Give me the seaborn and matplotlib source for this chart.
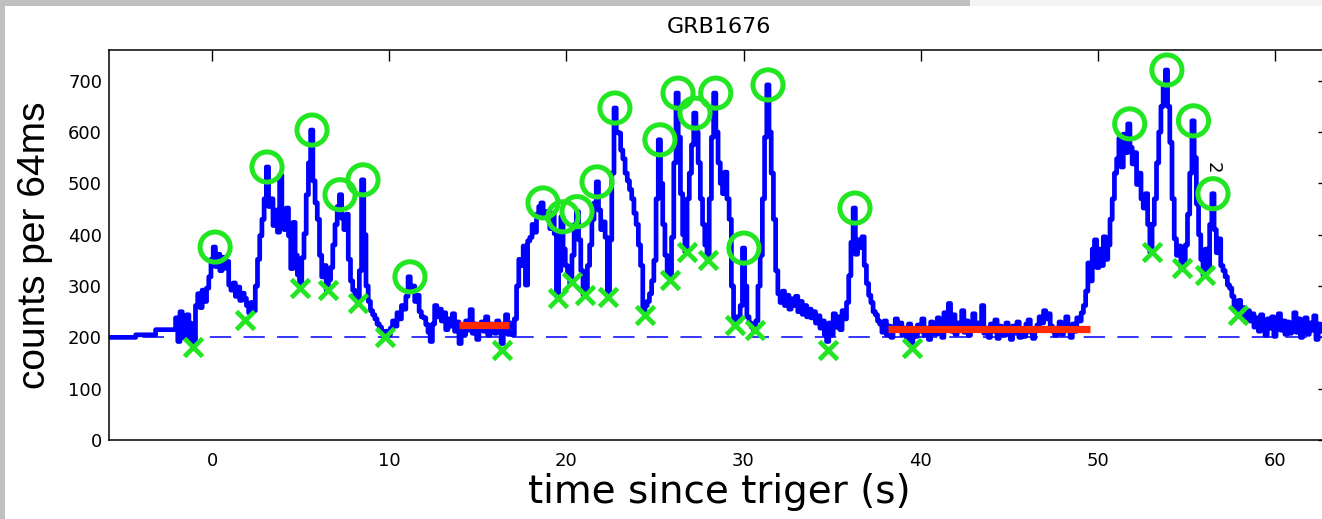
import numpy as np
import pandas as pd
import matplotlib
matplotlib.use("Agg")
import matplotlib.pyplot as plt
import seaborn as sns
from matplotlib.patches import Rectangle

# ---- light curve: counts per 64 ms, one row per second, 8 samples per row ----
title = "GRB1676"
t_first = -6.0
bin_width = 0.125
counts = [
    200, 200, 200, 200, 200, 200, 200, 200,   # -6
    200, 200, 200, 200, 200, 200, 205, 205,   # -5
    205, 205, 205, 205, 205, 205, 205, 215,   # -4
    215, 215, 215, 215, 215, 215, 215, 215,   # -3
    238, 192, 250, 242, 198, 244, 228, 196,   # -2
    188, 262, 285, 258, 292, 270, 296, 318,   # -1
    352, 376, 338, 362, 330, 356, 335, 348,   # 0
    302, 292, 306, 280, 298, 272, 286, 276,   # 1
    262, 248, 268, 252, 300, 352, 398, 430,   # 2
    470, 532, 455, 470, 418, 448, 405, 516,   # 3
    445, 410, 452, 398, 334, 424, 360, 322,   # 4
    298, 355, 402, 478, 540, 604, 505, 462,   # 5
    430, 360, 318, 340, 292, 312, 336, 380,   # 6
    420, 455, 478, 432, 410, 440, 352, 310,   # 7
    292, 280, 267, 330, 507, 400, 300, 270,   # 8
    252, 244, 236, 226, 220, 212, 200, 212,   # 9
    205, 218, 232, 222, 248, 236, 262, 255,   # 10
    280, 318, 296, 300, 270, 282, 250, 240,   # 11
    238, 225, 210, 192, 226, 262, 240, 255,   # 12
    232, 248, 215, 236, 222, 246, 212, 230,   # 13
    188, 222, 205, 232, 214, 254, 208, 226,   # 14
    196, 218, 230, 212, 240, 204, 226, 218,   # 15
    208, 232, 212, 188, 226, 244, 206, 228,   # 16
    205, 236, 300, 352, 340, 378, 302, 388,   # 17
    395, 420, 405, 440, 455, 462, 438, 445,   # 18
    430, 412, 442, 402, 280, 330, 435, 372,   # 19
    340, 318, 305, 360, 420, 445, 390, 330,   # 20
    283, 295, 340, 380, 430, 462, 503, 448,   # 21
    410, 425, 395, 280, 390, 520, 647, 600,   # 22
    598, 565, 548, 520, 505, 488, 470, 442,   # 23
    420, 380, 340, 250, 262, 270, 285, 310,   # 24
    350, 470, 585, 500, 420, 360, 318, 312,   # 25
    395, 540, 676, 590, 480, 400, 367, 470,   # 26
    520, 575, 637, 600, 540, 470, 420, 380,   # 27
    351, 470, 590, 676, 600, 540, 500, 480,   # 28
    522, 470, 430, 300, 226, 240, 232, 262,   # 29
    374, 300, 240, 228, 220, 214, 232, 300,   # 30
    360, 470, 590, 692, 600, 520, 430, 330,   # 31
    285, 268, 290, 262, 282, 255, 275, 262,   # 32
    280, 250, 270, 245, 262, 240, 255, 238,   # 33
    250, 228, 242, 218, 232, 205, 192, 228,   # 34
    205, 246, 220, 240, 215, 252, 236, 268,   # 35
    320, 385, 452, 362, 390, 375, 396, 340,   # 36
    305, 282, 268, 250, 244, 232, 226, 210,   # 37
    232, 205, 222, 200, 218, 236, 214, 228,   # 38
    205, 218, 196, 226, 188, 210, 202, 224,   # 39
    212, 236, 204, 218, 196, 230, 214, 206,   # 40
    238, 222, 200, 248, 224, 266, 212, 244,   # 41
    206, 228, 218, 252, 210, 232, 204, 220,   # 42
    246, 214, 228, 226, 262, 208, 218, 200,   # 43
    226, 212, 234, 198, 222, 210, 204, 228,   # 44
    214, 196, 222, 208, 230, 200, 216, 202,   # 45
    226, 234, 210, 198, 214, 224, 240, 228,   # 46
    252, 236, 246, 222, 212, 204, 218, 230,   # 47
    206, 222, 240, 214, 200, 226, 212, 238,   # 48
    232, 248, 262, 290, 345, 310, 372, 390,   # 49
    336, 372, 340, 396, 352, 380, 430, 470,   # 50
    520, 548, 588, 532, 596, 560, 616, 570,   # 51
    538, 560, 498, 520, 470, 452, 480, 420,   # 52
    366, 420, 470, 540, 600, 650, 690, 721,   # 53
    650, 580, 470, 392, 360, 378, 335, 350,   # 54
    380, 440, 520, 622, 550, 460, 400, 352,   # 55
    321, 372, 335, 420, 480, 410, 365, 392,   # 56
    340, 330, 318, 302, 296, 280, 262, 248,   # 57
    272, 245, 258, 238, 252, 232, 246, 220,   # 58
    238, 212, 244, 226, 204, 236, 218, 240,   # 59
    202, 228, 246, 214, 232, 206, 230, 208,   # 60
    224, 248, 210, 236, 200, 222, 238, 206,   # 61
    228, 214, 242, 196, 226, 212, 220, 232,   # 62
    214, 228, 206, 230, 218, 224, 210, 236,   # 63
]

# detected pulse peaks (circles) and valleys (crosses)
peak_t = [0.17, 3.10, 5.64, 7.22, 8.52, 11.17, 18.68, 19.81, 20.60, 21.73, 22.74,
          25.28, 26.30, 27.26, 28.43, 30.02, 31.38, 36.29, 51.80, 53.90, 55.40, 56.50]
peak_v = [376, 532, 604, 478, 507, 318, 462, 435, 445, 503, 647,
          585, 676, 637, 676, 374, 692, 452, 616, 721, 622, 480]
valley_t = [-1.07, 1.86, 4.97, 6.55, 8.24, 9.76, 16.37, 19.53, 20.32, 21.05, 22.35, 24.43,
            25.85, 26.81, 27.99, 29.51, 30.64, 34.76, 39.50, 53.05, 54.74, 56.04, 57.90]
valley_v = [181, 234, 297, 292, 267, 200, 175, 277, 308, 283, 279, 244,
            312, 367, 351, 224, 214, 175, 179, 366, 335, 321, 244]

# background level and the quiet intervals used to estimate it
background = 200
quiet_start = [13.94, 38.15]
quiet_end = [16.76, 49.55]
quiet_level = [224, 216]

# pulse label
pulse_label = "2"
pulse_label_t, pulse_label_v = 56.5, 530

xticks = [0, 10, 20, 30, 40, 50, 60]
yticks = [0, 100, 200, 300, 400, 500, 600, 700]

# ---- tables ----
lc = pd.DataFrame({"t": t_first + bin_width * np.arange(len(counts)), "counts": counts})
peaks = pd.DataFrame({"t": peak_t, "v": peak_v})
valleys = pd.DataFrame({"t": valley_t, "v": valley_v})
quiet = pd.DataFrame({
    "t": quiet_start + quiet_end,
    "v": quiet_level + quiet_level,
    "seg": list(range(len(quiet_start))) * 2,
})

sns.set_theme(style="white")
plt.rcParams["font.family"] = ["DejaVu Sans"]
plt.rcParams.update({
    "text.color": "black",
    "axes.labelcolor": "black",
    "xtick.color": "black",
    "ytick.color": "black",
    "axes.edgecolor": "black",
})

fig = plt.figure(figsize=(13.22, 5.19), dpi=100)
fig.patch.set_facecolor("white")
W, H = 1322, 519
ax = fig.add_axes([109 / W, 79 / H, 1220 / W, 390 / H])

# window frame strips
fig.patches.append(Rectangle((0, 1 - 6 / H), 970 / W, 6 / H, transform=fig.transFigure,
                             facecolor="#c0c0c0", edgecolor="none", zorder=0))
fig.patches.append(Rectangle((970 / W, 1 - 6 / H), 1 - 970 / W, 6 / H, transform=fig.transFigure,
                             facecolor="#f3f3f3", edgecolor="none", zorder=0))
fig.patches.append(Rectangle((0, 0), 5 / W, 1, transform=fig.transFigure,
                             facecolor="#c0c0c0", edgecolor="none", zorder=0))

blue = "#0000ff"
green = "#22e622"
red = "#ff2a00"

ax.axhline(background, color=blue, lw=1.1, dashes=(14, 8), zorder=1)
sns.lineplot(data=lc, x="t", y="counts", ax=ax, color=blue, lw=3.4,
             drawstyle="steps-mid", estimator=None, zorder=2)
sns.lineplot(data=quiet, x="t", y="v", units="seg", estimator=None, ax=ax,
             color=red, lw=5.2, solid_capstyle="butt", zorder=3)
sns.scatterplot(data=peaks, x="t", y="v", ax=ax, marker="o", s=470,
                facecolor="none", edgecolor=green, linewidth=3.6, zorder=4)
sns.scatterplot(data=valleys, x="t", y="v", ax=ax, marker="x", s=170,
                color=green, linewidth=3.4, zorder=4)

ax.text(pulse_label_t, pulse_label_v, pulse_label, rotation=-90, fontsize=13,
        ha="center", va="center", color="black")

ax.set_xlim(-5.82, 63.05)
ax.set_ylim(0, 760)
ax.set_xticks(xticks)
ax.set_yticks(yticks)
ax.tick_params(direction="in", length=8, width=1.0, top=True, right=True,
               labelsize=13, colors="black")
ax.tick_params(axis="x", pad=9)
ax.tick_params(axis="y", pad=5)
for sp in ax.spines.values():
    sp.set_visible(True)
    sp.set_color("black")
    sp.set_linewidth(1.1)

ax.set_title(title, fontsize=16, pad=12, color="black")
ax.set_xlabel("time since triger (s)", fontsize=28, color="black")
ax.set_ylabel("counts per 64ms", fontsize=28, color="black",
              family=["Liberation Sans", "DejaVu Sans"])
ax.xaxis.set_label_coords(0.5, -0.085)
ax.yaxis.set_label_coords(-0.046, 0.5)
ax.grid(False)

fig.savefig("out.png", dpi=100)
